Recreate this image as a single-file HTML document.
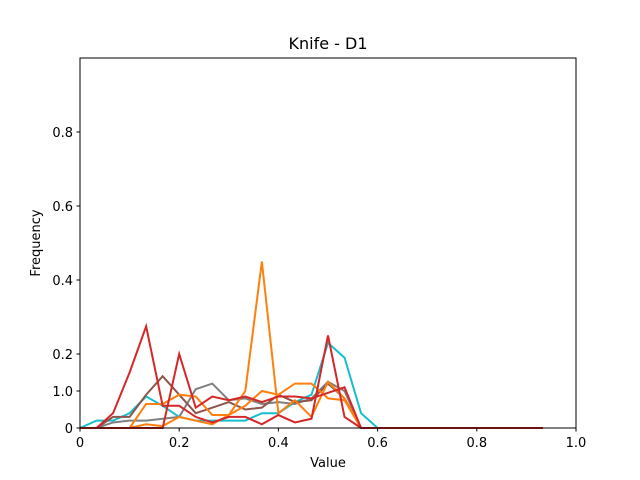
<!DOCTYPE html>
<html><head><meta charset="utf-8"><style>body{margin:0;background:#fff}svg{display:block;font-family:"DejaVu Sans","Liberation Sans",sans-serif}</style></head>
<body>
<svg id="chart" width="640" height="480">
<rect x="0" y="0" width="640" height="480" fill="#fff"/>
<text x="328" y="49" text-anchor="middle" font-size="16">Knife - D1</text>
<g id="plot"></g>
<rect x="80" y="58" width="496" height="370" fill="none" stroke="#000" stroke-width="1"/>
<g id="axes" font-size="13"></g>
<text x="328" y="467" text-anchor="middle" font-size="13">Value</text>
<text x="40" y="243" text-anchor="middle" font-size="13" transform="rotate(-90 40 243)">Frequency</text>
</svg>
<script>
const xTicks=[0,0.2,0.4,0.6,0.8,1.0];
const xTickLabels=["0","0.2","0.4","0.6","0.8","1.0"];
const yTicks=[0,0.1,0.2,0.4,0.6,0.8];
const yTickLabels=["0","1.0","0.2","0.4","0.6","0.8"];
const cyan=[0,0.02,0.02,0.04,0.085,0.06,0.03,0.02,0.02,0.02,0.02,0.04,0.04,0.07,0.09,0.23,0.19,0.04,0,0,0,0,0,0,0,0,0,0,0];
const orangeA=[0,0,0,0,0.01,0.005,0.03,0.02,0.01,0.035,0.1,0.45,0.04,0.075,0.03,0.125,0.08,0,0,0,0,0,0,0,0,0,0,0,0];
const orangeB=[0,0,0,0,0.065,0.065,0.09,0.085,0.035,0.035,0.06,0.1,0.09,0.12,0.12,0.08,0.075,0,0,0,0,0,0,0,0,0,0,0,0];
const gray=[0,0,0.015,0.02,0.02,0.025,0.03,0.105,0.12,0.075,0.08,0.065,0.07,0.065,0.08,0.125,0.1,0,0,0,0,0,0,0,0,0,0,0,0];
const brown=[0,0,0.03,0.03,0.09,0.14,0.09,0.04,0.055,0.07,0.05,0.055,0.09,0.07,0.075,0.12,0.08,0,0,0,0,0,0,0,0,0,0,0,0];
const redA=[0,0,0.04,0.15,0.275,0.06,0.06,0.03,0.015,0.03,0.03,0.01,0.035,0.015,0.025,0.25,0.03,0,0,0,0,0,0,0,0,0,0,0,0];
const redB=[0,0,0,0,0,0,0.2,0.055,0.085,0.075,0.085,0.07,0.085,0.085,0.08,0.095,0.11,0,0,0,0,0,0,0,0,0,0,0,0];
const seriesList=[[cyan,"#17becf","series-cyan"],[gray,"#7f7f7f","series-gray"],[brown,"#8c564b","series-brown"],[orangeA,"#ff7f0e","series-orange-a"],[orangeB,"#ff7f0e","series-orange-b"],[redB,"#d62728","series-red-b"],[redA,"#d62728","series-red-a"]];
const NS="http://www.w3.org/2000/svg";
const X=v=>80+v*496, Y=v=>428-v*370;
const plot=document.getElementById('plot'), axes=document.getElementById('axes');
seriesList.forEach(([d,c,n])=>{
  const p=document.createElementNS(NS,'polyline');
  p.setAttribute('points',d.map((v,i)=>X(i/30)+','+Y(v)).join(' '));
  p.setAttribute('fill','none');p.setAttribute('stroke',c);p.setAttribute('stroke-width','2');
  
  
  plot.appendChild(p);
});
xTicks.forEach((t,i)=>{
  const l=document.createElementNS(NS,'line');
  l.setAttribute('x1',X(t));l.setAttribute('x2',X(t));l.setAttribute('y1',428);l.setAttribute('y2',431.5);l.setAttribute('stroke','#000');
  
  
  axes.appendChild(l);
  const tx=document.createElementNS(NS,'text');
  tx.setAttribute('x',X(t));tx.setAttribute('y',447);tx.setAttribute('text-anchor','middle');tx.textContent=xTickLabels[i];
  
  
  axes.appendChild(tx);
});
yTicks.forEach((t,i)=>{
  const l=document.createElementNS(NS,'line');
  l.setAttribute('x1',76.5);l.setAttribute('x2',80);l.setAttribute('y1',Y(t));l.setAttribute('y2',Y(t));l.setAttribute('stroke','#000');
  
  
  axes.appendChild(l);
  const tx=document.createElementNS(NS,'text');
  tx.setAttribute('x',73);tx.setAttribute('y',Y(t)+5);tx.setAttribute('text-anchor','end');tx.textContent=yTickLabels[i];
  
  
  axes.appendChild(tx);
});
</script>
</body></html>
